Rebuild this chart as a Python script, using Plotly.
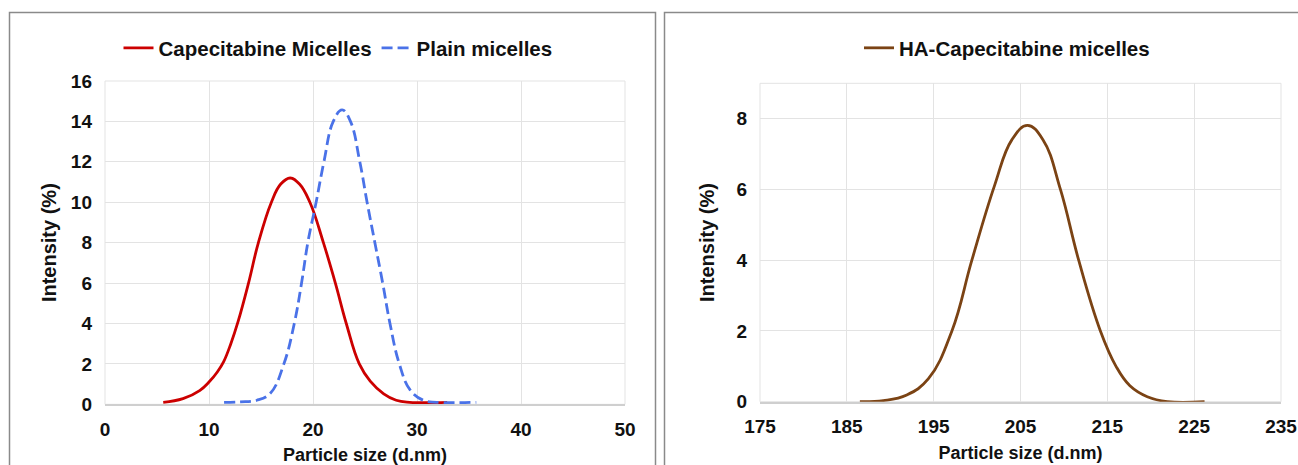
import plotly.graph_objects as go

# Particle size distributions (intensity %) read per size bin, d.nm
cap_size = [5.6, 7.5, 9.1, 10.0, 10.8, 11.4, 12.1, 12.8, 13.8, 14.75, 16.0, 16.9, 17.8, 18.7,
            19.7, 21.0, 22.15, 23.2, 24.45, 25.5, 26.8, 28.0, 29.3, 32.9]
cap_int = [0.1, 0.28, 0.68, 1.1, 1.6, 2.1, 3.0, 4.1, 6.0, 8.0, 10.0, 10.9, 11.2, 10.9,
           10.0, 8.0, 6.0, 4.0, 2.0, 1.15, 0.52, 0.2, 0.1, 0.1]

plain_size = [11.45, 13.0, 14.6, 15.9, 17.2, 18.2, 18.9, 19.5, 20.3, 21.05, 21.95, 22.8,
              23.6, 24.5, 25.2, 25.95, 26.7, 27.4, 28.3, 29.35, 30.6, 31.9, 35.7]
plain_int = [0.1, 0.12, 0.2, 0.55, 2.0, 4.0, 6.0, 8.0, 10.0, 12.0, 14.0, 14.57,
             14.0, 12.0, 10.0, 8.0, 6.0, 4.0, 2.0, 0.7, 0.2, 0.1, 0.1]

ha_size = [186.5, 189.2, 191.9, 194.4, 197.1, 199.4, 202.0, 204.0, 205.8,
           207.6, 209.6, 211.7, 214.2, 216.0, 217.6, 219.6, 221.9, 226.2]
ha_int = [0.0, 0.03, 0.19, 0.65, 2.0, 4.0, 6.1, 7.4, 7.81,
          7.4, 6.0, 4.0, 2.0, 1.0, 0.45, 0.14, 0.0, 0.0]

left_xticks = [0, 10, 20, 30, 40, 50]
left_yticks = [0, 2, 4, 6, 8, 10, 12, 14, 16]
right_xticks = [175, 185, 195, 205, 215, 225, 235]
right_yticks = [0, 2, 4, 6, 8]

W, H = 1298, 465
FONT = "Liberation Sans, Arial, Helvetica, sans-serif"
GRID = "#e3e3e3"
INK = "#111111"


def px(v):
    return v / W


def py(v):
    return 1 - v / H


fig = go.Figure()

fig.add_trace(go.Scatter(
    x=cap_size, y=cap_int, name="Capecitabine Micelles", mode="lines",
    line=dict(color="#cc0000", width=2.8, shape="spline", smoothing=1.2),
    xaxis="x", yaxis="y", legend="legend"))
fig.add_trace(go.Scatter(
    x=plain_size, y=plain_int, name="Plain micelles", mode="lines",
    line=dict(color="#4a72e8", width=2.8, dash="11px,5px", shape="spline", smoothing=1.2),
    xaxis="x", yaxis="y", legend="legend"))
fig.add_trace(go.Scatter(
    x=ha_size, y=ha_int, name="HA-Capecitabine micelles", mode="lines",
    line=dict(color="#7b4314", width=2.8, shape="spline", smoothing=1.2),
    xaxis="x2", yaxis="y2", legend="legend2"))

tickfont = dict(family=FONT, size=19, color=INK, weight="bold")
xtitlefont = dict(family=FONT, size=18, color=INK, weight="bold")
ytitlefont = dict(family=FONT, size=20, color=INK, weight="bold")
legendfont = dict(family=FONT, size=20.5, color=INK, weight="bold")

common_x = dict(showgrid=True, gridcolor=GRID, gridwidth=1, zeroline=False,
                showline=True, linecolor="#cfcfcf", linewidth=1.5, ticks="",
                tickfont=tickfont, automargin=False, ticklabelstandoff=7)
common_y = dict(showgrid=True, gridcolor=GRID, gridwidth=1, zeroline=False,
                showline=False, ticks="", tickfont=tickfont, automargin=False,
                ticklabelstandoff=12)

fig.update_layout(
    width=W, height=H,
    margin=dict(l=0, r=0, t=0, b=0),
    paper_bgcolor="white", plot_bgcolor="white",
    font=dict(family=FONT, color=INK),
    xaxis=dict(domain=[px(105), px(625)], range=[0, 50], tickvals=left_xticks,
               title=dict(text="Particle size (d.nm)", font=xtitlefont, standoff=12),
               anchor="y", **common_x),
    yaxis=dict(domain=[py(404.3), py(81)], range=[0, 16], tickvals=left_yticks,
               title=dict(text="Intensity (%)", font=ytitlefont, standoff=8),
               anchor="x", **common_y),
    xaxis2=dict(domain=[px(760), px(1281)], range=[175, 235], tickvals=right_xticks,
                title=dict(text="Particle size (d.nm)", font=xtitlefont, standoff=10),
                anchor="y2", **common_x),
    yaxis2=dict(domain=[py(401.7), py(83.3)], range=[0, 9], tickvals=right_yticks,
                title=dict(text="Intensity (%)", font=ytitlefont, standoff=16),
                anchor="x2", **common_y),
    legend=dict(orientation="h", x=px(338), y=py(48), xanchor="center", yanchor="middle",
                font=legendfont, bgcolor="rgba(0,0,0,0)", borderwidth=0, itemwidth=30),
    legend2=dict(orientation="h", x=px(1007), y=py(48), xanchor="center", yanchor="middle",
                 font=legendfont, bgcolor="rgba(0,0,0,0)", borderwidth=0, itemwidth=30),
    showlegend=True,
)

# Plot-area frames in the grid colour, and the outer panel boxes
shapes = []
for xr, yr in (("x domain", "y domain"), ("x2 domain", "y2 domain")):
    shapes.append(dict(type="rect", xref=xr, yref=yr, x0=0, x1=1, y0=0, y1=1,
                       line=dict(color=GRID, width=1), layer="below"))
shapes.append(dict(type="rect", xref="paper", yref="paper",
                   x0=px(9.5), x1=px(655.5), y0=py(475), y1=py(12.5),
                   line=dict(color="#8a8a8a", width=1.5)))
shapes.append(dict(type="rect", xref="paper", yref="paper",
                   x0=px(664.5), x1=px(1305), y0=py(475), y1=py(12.5),
                   line=dict(color="#8a8a8a", width=1.5)))
fig.update_layout(shapes=shapes)

fig.write_html("out.html")
